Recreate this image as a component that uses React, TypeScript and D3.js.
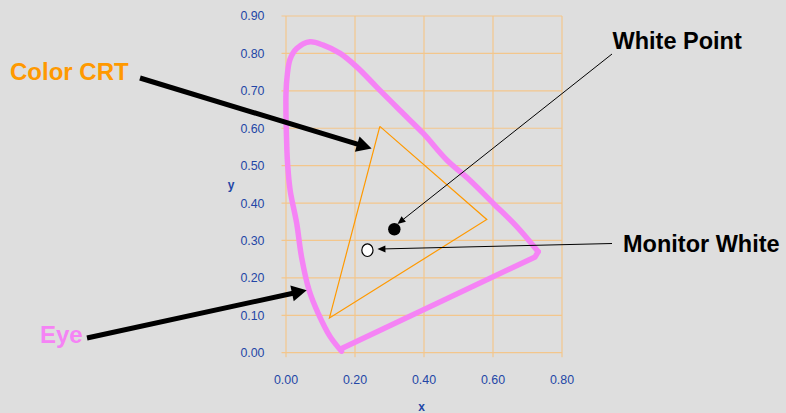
import React from "react";
import * as d3 from "d3";

// Spectral locus (as drawn), chromaticity coordinates
const locusX = [0.161, 0.128, 0.093, 0.067, 0.045, 0.031, 0.012, 0.005, 0.002, 0.0, 0.004, 0.012, 0.031, 0.07, 0.108, 0.157, 0.205, 0.263, 0.33, 0.398, 0.466, 0.533, 0.601, 0.669, 0.731];
const locusY = [0.004, 0.043, 0.106, 0.167, 0.256, 0.346, 0.434, 0.5, 0.559, 0.693, 0.745, 0.785, 0.813, 0.831, 0.822, 0.8, 0.764, 0.71, 0.648, 0.586, 0.515, 0.461, 0.399, 0.337, 0.27];

// Line of purples (as drawn)
const purpleX = [0.731, 0.722, 0.163];
const purpleY = [0.27, 0.256, 0.012];

// CRT gamut triangle (G, R, B)
const crtX = [0.272, 0.582, 0.126, 0.272];
const crtY = [0.605, 0.356, 0.093, 0.605];

// White points
const whitePoint = { x: 0.314, y: 0.33 };
const monitorWhite = { x: 0.236, y: 0.274 };

const xTicks = [0, 0.2, 0.4, 0.6, 0.8];
const yTicks = [0, 0.1, 0.2, 0.3, 0.4, 0.5, 0.6, 0.7, 0.8, 0.9];

// annotation targets (data coords)
const annotTargets = [
  { name: "Color CRT", x: 0.248, y: 0.546 },
  { name: "Eye", x: 0.06, y: 0.167 },
  { name: "White Point", x: 0.323, y: 0.344 },
  { name: "Monitor White", x: 0.265, y: 0.277 },
];

const W = 786;
const H = 413;
const BG = "#dedede";
const GRID = "#f3c68c";
const PINK = "#f583f5";
const ORANGE = "#ff9900";
const BLUE = "#2346a6";
const FONT = "'Liberation Sans', Arial, sans-serif";

function arrowPath(x1: number, y1: number, x2: number, y2: number, headLen: number, headHalf: number) {
  const dx = x2 - x1;
  const dy = y2 - y1;
  const len = Math.hypot(dx, dy);
  const ux = dx / len;
  const uy = dy / len;
  const bx = x2 - ux * headLen;
  const by = y2 - uy * headLen;
  const px = -uy;
  const py = ux;
  return {
    line: { x1, y1, x2: bx + ux * 1, y2: by + uy * 1 },
    head: `M${x2},${y2}L${bx + px * headHalf},${by + py * headHalf}L${bx - px * headHalf},${by - py * headHalf}Z`,
  };
}

export default function App() {
  const x = d3.scaleLinear().domain([0, 0.8]).range([286, 562]);
  const y = d3.scaleLinear().domain([0, 0.9]).range([352.7, 16]);

  const locusPts: [number, number][] = locusX.map((v, i) => [v, locusY[i]]);
  const purplePts: [number, number][] = purpleX.map((v, i) => [v, purpleY[i]]);
  const crtPts: [number, number][] = crtX.map((v, i) => [v, crtY[i]]);
  const linear = d3
    .line<[number, number]>()
    .x((d) => x(d[0]))
    .y((d) => y(d[1]));
  const smooth = d3
    .line<[number, number]>()
    .x((d) => x(d[0]))
    .y((d) => y(d[1]))
    .curve(d3.curveCatmullRom.alpha(0.5));
  const locusD = smooth(locusPts) || "";
  const purpleD = linear(purplePts) || "";
  const crtD = linear(crtPts) || "";

  const labels = [
    { text: "Color CRT", tx: 10, ty: 79.5, color: ORANGE, size: 24, sx: 140, sy: 78, thick: true },
    { text: "Eye", tx: 40, ty: 342.5, color: PINK, size: 24, sx: 87, sy: 338, thick: true },
    { text: "White Point", tx: 612.5, ty: 48.5, color: "#000", size: 23.5, sx: 612, sy: 54, thick: false },
    { text: "Monitor White", tx: 623, ty: 251.5, color: "#000", size: 23.5, sx: 612, sy: 243.5, thick: false },
  ];

  return (
    <svg
      width={W}
      height={H}
      style={{ position: "absolute", left: 0, top: 0, background: BG }}
      fontFamily={FONT}
    >
      <rect x={0} y={0} width={W} height={H} fill={BG} />
      {/* grid */}
      {yTicks.map((t) => (
        <line key={"gy" + t} x1={x(0) - 4.5} x2={x(0.8)} y1={y(t)} y2={y(t)} stroke={GRID} strokeWidth={1.2} />
      ))}
      {xTicks.map((t) => (
        <line key={"gx" + t} x1={x(t)} x2={x(t)} y1={y(0.9)} y2={y(0) + 4.5} stroke={GRID} strokeWidth={1.2} />
      ))}
      {/* tick labels */}
      {yTicks.map((t) => (
        <text key={"ly" + t} x={264.5} y={y(t)} dy="0.36em" textAnchor="end" fontSize={12.4} fill={BLUE}>
          {t.toFixed(2)}
        </text>
      ))}
      {xTicks.map((t) => (
        <text key={"lx" + t} x={x(t)} y={383.5} textAnchor="middle" fontSize={12.4} fill={BLUE}>
          {t.toFixed(2)}
        </text>
      ))}
      <text x={421.5} y={410.5} textAnchor="middle" fontSize={12} fontWeight="bold" fill={BLUE}>
        x
      </text>
      <text x={231} y={189} textAnchor="middle" fontSize={12} fontWeight="bold" fill={BLUE}>
        y
      </text>

      {/* CRT triangle */}
      <path d={crtD} fill="none" stroke={ORANGE} strokeWidth={1.2} strokeLinejoin="miter" />
      {/* spectral locus and line of purples */}
      <path d={locusD} fill="none" stroke={PINK} strokeWidth={5.5} strokeLinejoin="round" strokeLinecap="round" />
      <path d={purpleD} fill="none" stroke={PINK} strokeWidth={5.5} strokeLinejoin="round" strokeLinecap="round" />

      {/* white points */}
      <circle cx={x(whitePoint.x)} cy={y(whitePoint.y)} r={6.2} fill="#000" />
      <ellipse cx={x(monitorWhite.x)} cy={y(monitorWhite.y)} rx={5.6} ry={6.3} fill="#fff" stroke="#000" strokeWidth={1.2} />

      {/* annotations */}
      {labels.map((l, i) => {
        const tgt = annotTargets[i];
        const a = arrowPath(l.sx, l.sy, x(tgt.x), y(tgt.y), l.thick ? 15 : 8, l.thick ? 8 : 3.5);
        return (
          <g key={l.text}>
            <text x={l.tx} y={l.ty} fontSize={l.size} fontWeight="bold" fill={l.color}>
              {l.text}
            </text>
            <line {...a.line} stroke="#000" strokeWidth={l.thick ? 5 : 1} />
            <path d={a.head} fill="#000" />
          </g>
        );
      })}
    </svg>
  );
}
